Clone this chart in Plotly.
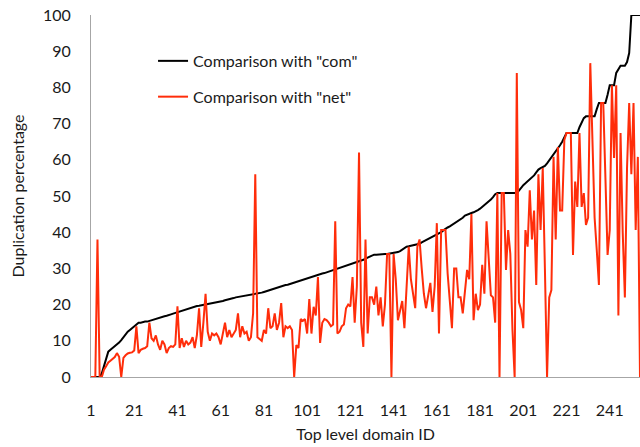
import plotly.graph_objects as go

# Duplication percentage of each top level domain, sorted by the "com" comparison
com = [
    0, 0, 0, 0, 0, 1, 3, 5.5, 7, 7.5,
    8, 8.3, 9, 9.5, 10.2, 11, 11.5, 12.5, 13, 13.5,
    14, 14.5, 15, 15, 15.2, 15.3, 15.3, 15.5, 15.8, 16,
    16.2, 16.3, 16.5, 16.6, 16.8, 16.9, 17, 17.3, 17.5, 17.7,
    17.9, 18.1, 18.3, 18.5, 18.8, 19, 19.2, 19.4, 19.5, 19.6,
    19.7, 19.8, 19.9, 20, 20.1, 20.2, 20.4, 20.5, 20.6, 20.8,
    20.9, 21, 21.2, 21.3, 21.5, 21.7, 21.8, 22, 22.1, 22.2,
    22.4, 22.5, 22.6, 22.7, 22.8, 22.9, 23, 23, 23.1, 23.3,
    23.5, 23.7, 24, 24.1, 24.2, 24.4, 24.6, 24.8, 25, 25.2,
    25.4, 25.5, 25.7, 25.9, 26, 26.2, 26.4, 26.6, 26.8, 27,
    27.3, 27.6, 27.8, 28, 28.1, 28.3, 28.5, 28.6, 28.7, 28.9,
    29, 29.2, 29.4, 29.6, 29.8, 30.1, 30.4, 30.6, 30.8, 31,
    31.1, 31.3, 31.5, 31.6, 31.8, 32, 32.3, 32.6, 33, 33.3,
    33.7, 33.8, 33.8, 33.9, 33.9, 34, 34, 34, 34.1, 34.1,
    34.2, 34.3, 34.5, 34.8, 35.2, 35.6, 36, 36.1, 36.2, 36.3,
    36.4, 36.5, 36.8, 37.2, 37.5, 37.8, 38.1, 38.4, 38.8, 39.1,
    39.4, 39.7, 40, 40.5, 41, 41.3, 41.6, 42, 42.4, 42.7,
    43, 43.5, 44, 44.6, 44.9, 45.1, 45.3, 45.5, 45.7, 46.1,
    46.5, 47, 47.4, 47.9, 48.4, 49, 49.7, 50.5, 50.8, 50.8,
    50.8, 50.8, 50.8, 50.8, 50.8, 50.8, 50.8, 50.8, 51.5, 52.3,
    53, 53.5, 54, 54.6, 55.1, 55.7, 56.5, 57.3, 57.7, 57.9,
    58.3, 59, 59.8, 60.8, 61.5, 62.4, 63.2, 64, 65, 66.4,
    67.4, 67.4, 67.4, 67.4, 67.4, 67.4, 69, 70.5, 71.5, 72,
    72, 72, 72, 72, 74, 75.7, 75.7, 75.7, 75.7, 78,
    80.6, 80.6, 80.6, 84, 85, 86, 86, 86, 87, 89.5,
    100, 100, 100, 100, 100,
]

net = [
    0, 0, 0, 38, 0, 0, 2, 3, 4, 4.5,
    5, 5.5, 6.6, 5.6, 0, 5.3, 6, 6.5, 6.7, 6.8,
    7.3, 14, 6.6, 7.5, 7.8, 8, 8.5, 15, 10.7, 10,
    11.5, 9, 7.5, 10, 9, 6.6, 8, 8.5, 8.3, 9,
    19.5, 8, 10.7, 8.3, 10, 9, 9.5, 11, 8, 11.6,
    19, 8.3, 15, 23, 12.5, 10, 12, 11.5, 12, 11,
    9, 12, 15, 11, 13, 11, 12, 13, 17.6, 11,
    14, 12, 12.5, 10, 11, 17.6, 56, 11, 10.5, 10,
    13, 12, 19, 13.5, 14, 17.6, 13, 15, 20.4, 11,
    14, 13.5, 14, 13, 0, 8.8, 8, 16, 15.5, 16,
    12, 21.5, 12, 19.4, 17, 27.6, 9.4, 15, 16, 15.7,
    15, 14, 14.5, 43, 12, 12.5, 14, 14.5, 19, 20,
    19.5, 27.6, 15, 25, 62, 15, 8.3, 38, 12, 22,
    22, 20, 25, 17, 22, 14, 20, 34, 34, 0,
    34, 27, 15.7, 18, 21, 13.5, 24, 36, 27, 23,
    19, 36, 38, 30, 23, 19, 22, 26, 18, 25,
    42.5, 12, 40.6, 40.6, 40.6, 28.6, 20, 13.5, 30, 30,
    22, 22, 17.6, 24, 29.6, 27, 45, 15.7, 23, 18.5,
    20, 31, 23, 43, 34, 22.6, 22, 15, 50.8, 0,
    50.8, 50.8, 29.6, 40.6, 34, 13, 0, 84, 20.7, 18.5,
    13.5, 40.6, 36, 51.6, 38, 46, 25.4, 56, 40.6, 57.7,
    30, 0, 22, 24, 60.8, 38, 63.5, 46, 46, 65.5,
    67.4, 67.4, 67.4, 33.7, 54, 47, 67.4, 47, 50.8, 42,
    44, 86.7, 65, 44, 35, 25.4, 75.7, 75.7, 55, 33.7,
    40.6, 80.6, 60.5, 80.6, 17, 67.4, 40, 22, 57.7, 75.7,
    56, 75.7, 40.6, 60.8, 0,
]

domain_ids = list(range(1, len(com) + 1))
x_tick_labels = [1, 21, 41, 61, 81, 101, 121, 141, 161, 181, 201, 221, 241]
y_tick_labels = [0, 10, 20, 30, 40, 50, 60, 70, 80, 90, 100]

FONT = "Lato, 'Open Sans', sans-serif"
AXIS_GREY = "#a6a6a6"

fig = go.Figure()
fig.add_trace(go.Scatter(
    x=domain_ids, y=com, mode="lines", name='Comparison with "com"',
    line=dict(color="#000000", width=2), legendgroup="com",
))
fig.add_trace(go.Scatter(
    x=domain_ids, y=net, mode="lines", name='Comparison with "net"',
    line=dict(color="#ff2d0a", width=2), legendgroup="net",
))

fig.update_layout(
    width=640, height=447,
    margin=dict(l=91, r=0, t=15, b=70),
    paper_bgcolor="white", plot_bgcolor="white",
    font=dict(family=FONT, size=16, color="#1a1a1a"),
    showlegend=True,
    legend=dict(
        x=0.113, y=0.92, xanchor="left", yanchor="top",
        bgcolor="rgba(0,0,0,0)", font=dict(size=16, color="#1a1a1a"),
        tracegroupgap=12, traceorder="grouped",
    ),
    xaxis=dict(
        range=[1, len(com)], tickmode="array", tickvals=x_tick_labels,
        ticktext=[str(v) for v in x_tick_labels],
        showgrid=False, zeroline=False, showline=True,
        linecolor=AXIS_GREY, linewidth=1, ticks="",
        ticklabelstandoff=19,
        title=dict(text="Top level domain ID", standoff=10,
                   font=dict(size=16)),
    ),
    yaxis=dict(
        range=[0, 100], tickmode="array", tickvals=y_tick_labels,
        showgrid=False, zeroline=False, showline=True,
        linecolor=AXIS_GREY, linewidth=1, ticks="",
        ticklabelstandoff=16,
        title=dict(text="Duplication percentage", standoff=14,
                   font=dict(size=16)),
    ),
)

fig.write_html("out.html")
